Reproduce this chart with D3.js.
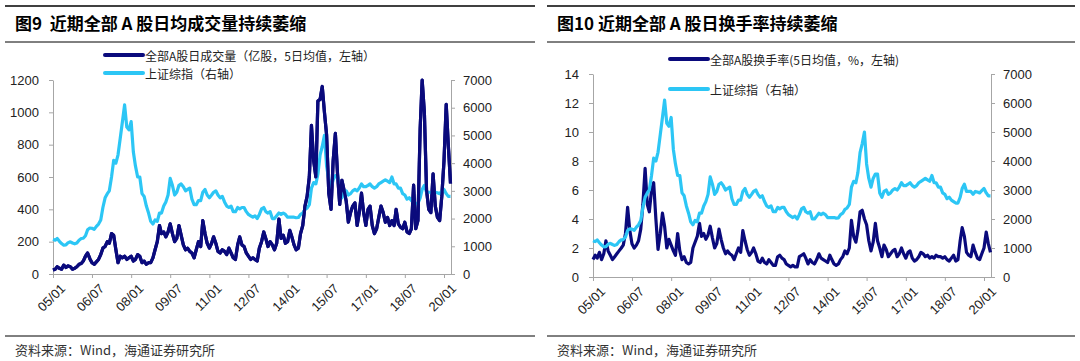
<!DOCTYPE html>
<html>
<head>
<meta charset="utf-8">
<script src="https://cdn.jsdelivr.net/npm/d3@7"></script>
<style>
  body { margin: 0; background: #fff; }
  svg { display: block; font-family: "Liberation Sans", Arial, sans-serif; }
  .cn { font-family: "Noto Sans CJK SC", sans-serif; white-space: pre; }
</style>
</head>
<body>
<svg id="chart" width="1080" height="361"></svg>
<script>
// Monthly values, Jan 2005 .. Apr 2020 (one number per month)

// 上证综指 (both panels, right axis)
const shIndex = [
  1250, 1220, 1280, 1180, 1100, 1040, 1050, 1130, 1160, 1120, 1090, 1120,
  1220, 1280, 1290, 1380, 1600, 1660, 1650, 1610, 1720, 1800, 1950, 2400,
  2750, 2900, 3000, 3500, 4100, 4000, 4300, 4900, 5500, 6100, 5300, 5200,
  5500, 4400, 3900, 3500, 3500, 2900, 2800, 2450, 2200, 1900, 1800, 1950,
  1900, 2200, 2200, 2450, 2600, 2850, 3450, 3200, 2850, 2950, 3200, 3250,
  3150, 3000, 3050, 3100, 2700, 2500, 2500, 2650, 2650, 2950, 3050, 2850,
  2750, 2850, 2950, 3000, 2850, 2750, 2800, 2600, 2450, 2400, 2450, 2250,
  2250, 2400, 2350, 2400, 2400, 2250, 2150, 2100, 2050, 2100, 2000, 2150,
  2350, 2400, 2250, 2200, 2250, 2000, 2000, 2100, 2200, 2150, 2200, 2150,
  2050, 2050, 2050, 2050, 2030, 2040, 2150, 2200, 2330, 2380, 2500, 3100,
  3300, 3250, 3600, 4300, 4600, 5000, 3900, 3400, 3100, 3400, 3550, 3550,
  2900, 2750, 2950, 3000, 2850, 2900, 3000, 3050, 3000, 3100, 3250, 3150,
  3150, 3200, 3250, 3150, 3100, 3150, 3250, 3300, 3350, 3400, 3350, 3300,
  3500, 3250, 3250, 3100, 3100, 2900, 2850, 2700, 2750, 2650, 2600, 2550,
  2550, 2750, 3050, 3200, 2950, 2950, 2950, 2850, 2950, 2930, 2900, 2980,
  3050, 2900, 2800, 2800
];

// 全部A股日成交量 (亿股, 5日均值), left panel
const volume = [
  25, 30, 45, 35, 30, 55, 40, 50, 45, 30, 35, 45,
  60, 65, 80, 110, 130, 95, 70, 60, 75, 90, 120, 160,
  170, 200, 190, 250, 240, 150, 70, 110, 100, 110, 90, 100,
  110, 80, 90, 120, 110, 70, 80, 60, 70, 70, 100, 150,
  200, 300, 250, 260, 230, 260, 310, 250, 200, 220, 300, 240,
  180, 150, 160, 140, 130, 100, 150, 200, 170, 330, 250, 190,
  160, 190, 230, 190, 140, 130, 150, 140, 120, 160, 130, 100,
  90, 180, 230, 180, 170, 130, 110, 90, 100, 90, 80, 160,
  200, 260, 220, 170, 200, 180, 150, 190, 340, 220, 240, 190,
  200, 270, 230, 180, 150, 160, 250, 300, 420, 480, 600, 920,
  700, 600, 1070, 1080, 1160, 1000, 860, 500, 400, 700, 870, 620,
  430, 580, 520, 450, 320, 380, 420, 440, 300, 380, 500, 380,
  300, 400, 420, 300, 250, 280, 350, 420, 380, 320, 350, 300,
  330, 300, 400, 310, 290, 280, 320, 260, 250, 280, 550, 280,
  330, 900, 1200, 1000, 520, 400, 380, 620, 420, 350, 330, 480,
  700, 1050, 800, 560
];

// 全部A股换手率 (5日均值, %), right panel
const turnover = [
  1.2, 1.5, 1.3, 1.7, 1.2, 1.6, 2.5, 1.8, 1.5, 1.2, 1.4, 1.6,
  1.8, 2.0, 2.2, 3.0, 4.8, 3.2, 2.3, 2.0, 2.2, 2.5, 3.3, 5.0,
  7.5, 5.0, 4.5, 6.0, 6.5, 4.0, 1.9, 3.0, 4.4, 3.5, 2.0, 2.6,
  2.2, 1.8, 1.5, 3.0, 1.8, 1.2, 1.4, 1.0, 0.9, 1.0, 2.0, 2.4,
  2.8, 3.7, 2.8, 3.0, 2.6, 2.9, 3.5, 2.7, 2.0, 2.3, 3.3, 2.6,
  2.0, 1.6, 1.8, 1.6, 1.5, 1.2, 1.6, 2.0, 1.7, 3.2, 2.5, 1.9,
  1.5, 1.7, 2.0, 1.6, 1.1, 1.0, 1.3, 1.0, 0.9, 1.2, 1.0, 0.8,
  0.8, 1.4, 1.5, 1.3, 1.2, 0.9, 0.8, 0.7, 0.8, 0.7, 0.7, 1.4,
  1.5, 1.6, 1.3, 0.9, 1.2, 1.0, 0.9, 1.2, 1.6, 1.3, 1.2, 1.1,
  1.0, 1.5, 1.2, 0.9, 0.8, 0.9, 1.2, 1.4, 1.8, 1.6, 2.0, 3.9,
  2.8, 2.4, 3.2, 4.5, 4.6, 4.0, 3.6, 2.5, 1.8, 2.4, 3.7, 2.5,
  2.0, 1.4, 2.2, 1.9, 1.4, 1.6, 1.8, 1.9, 1.4, 1.6, 2.0, 1.6,
  1.3, 1.7, 1.8, 1.3, 1.1, 1.2, 1.4, 1.7, 1.6, 1.4, 1.5, 1.3,
  1.4, 1.3, 1.5, 1.4, 1.4, 1.3, 1.4, 1.2, 1.1, 1.3, 1.5, 1.1,
  1.2, 2.5, 3.4, 2.8, 1.7, 1.5, 1.4, 2.2, 1.7, 1.3, 1.2, 1.6,
  2.0, 3.1, 2.3, 1.7
];

// x tick labels, one every 18 months
const xTickLabels = ["05/01", "06/07", "08/01", "09/07", "11/01", "12/07", "14/01", "15/07", "17/01", "18/07", "20/01"];
const leftTicksVolume = [0, 200, 400, 600, 800, 1000, 1200];
const leftTicksTurnover = [0, 2, 4, 6, 8, 10, 12, 14];
const rightTicksIndex = [0, 1000, 2000, 3000, 4000, 5000, 6000, 7000];

const darkBlue = "#0a0a7c";
const lightBlue = "#2cc6f5";
const axisGrey = "#a6a6a6";

const svg = d3.select("#chart");
const dates = shIndex.map((v, i) => new Date(2005, i, 1));
const tickDates = xTickLabels.map(s => d3.timeParse("%y/%m")(s));

function drawPanel(p) {
  let g = svg.append("g");

  // title block with its two rules
  g.append("line").attr("x1", p.ruleX0).attr("x2", p.ruleX1).attr("y1", 6).attr("y2", 6)
    .attr("stroke", "#000").attr("stroke-width", 1.5);
  g.append("text").attr("class", "cn").attr("x", p.titleX).attr("y", 30)
    .attr("font-size", 17).attr("font-weight", "bold").attr("fill", "#000")
    .text(p.title);
  g.append("line").attr("x1", p.ruleX0).attr("x2", p.ruleX1).attr("y1", 42).attr("y2", 42)
    .attr("stroke", "#000").attr("stroke-width", 1);

  // source rule and text
  g.append("line").attr("x1", p.ruleX0).attr("x2", p.ruleX1).attr("y1", 336).attr("y2", 336)
    .attr("stroke", "#000").attr("stroke-width", 1);
  g.append("text").attr("class", "cn").attr("x", p.titleX).attr("y", 355)
    .attr("font-size", 13).attr("fill", "#333")
    .text("资料来源：Wind，海通证券研究所");

  let x = d3.scaleTime()
    .domain([new Date(2005, 0, 1), new Date(2020, 3, 8)])
    .range([p.left, p.right]);
  let yL = d3.scaleLinear().domain(p.leftDomain).range([p.bottom, p.top]);
  let yR = d3.scaleLinear().domain([0, 7000]).range([p.bottom, p.top]);

  // axes
  let xAxis = d3.axisBottom(x).tickValues(tickDates).tickFormat(d3.timeFormat("%y/%m"))
    .tickSize(4).tickSizeOuter(0);
  let gx = g.append("g").attr("transform", `translate(0,${p.bottom})`).call(xAxis);

  let gl = g.append("g").attr("transform", `translate(${p.left},0)`)
    .call(d3.axisLeft(yL).tickValues(p.leftTicks).tickFormat(d3.format("d"))
      .tickSize(4).tickSizeOuter(0).tickPadding(10));
  let gr = g.append("g").attr("transform", `translate(${p.right},0)`)
    .call(d3.axisRight(yR).tickValues(rightTicksIndex).tickFormat(d3.format("d"))
      .tickSize(4).tickSizeOuter(0).tickPadding(8));

  for (let a of [gx, gl, gr]) {
    a.selectAll("path, line").attr("stroke", axisGrey);
    a.selectAll("text").attr("font-size", 13).attr("fill", "#222")
      .attr("font-family", "'Liberation Sans', Arial, sans-serif");
  }
  // rotated date labels ending just under each tick
  gx.selectAll("text")
    .attr("text-anchor", "end")
    .attr("transform", "translate(4,3) rotate(-45)")
    .attr("dx", "-0.2em").attr("dy", "0.6em");

  // series lines
  let lineIdx = d3.line().x((d, i) => x(dates[i])).y(d => yR(d));
  let lineLeft = d3.line().x((d, i) => x(dates[i])).y(d => yL(d));

  g.append("path").datum(p.leftData)
    .attr("fill", "none").attr("stroke", darkBlue).attr("stroke-width", 3.2)
    .attr("stroke-linejoin", "round").attr("d", lineLeft);
  g.append("path").datum(shIndex)
    .attr("fill", "none").attr("stroke", lightBlue).attr("stroke-width", 3.2)
    .attr("stroke-linejoin", "round").attr("d", lineIdx);
  if (p.darkOnTop) {
    g.append("path").datum(p.leftData)
      .attr("fill", "none").attr("stroke", darkBlue).attr("stroke-width", 3.2)
      .attr("stroke-linejoin", "round").attr("d", lineLeft);
  }

  // legend
  let items = [
    {label: p.leftLabel, color: darkBlue, y: p.legendY[0]},
    {label: "上证综指（右轴）", color: lightBlue, y: p.legendY[1]}
  ];
  for (let it of items) {
    g.append("line").attr("x1", p.legendX).attr("x2", p.legendX + 38)
      .attr("y1", it.y).attr("y2", it.y)
      .attr("stroke", it.color).attr("stroke-width", 4).attr("stroke-linecap", "round");
    g.append("text").attr("class", "cn").attr("x", p.legendX + 40).attr("y", it.y)
      .attr("dominant-baseline", "central").attr("font-size", 12).attr("fill", "#222")
      .text(it.label);
  }
}

drawPanel({
  title: "图9  近期全部 A 股日均成交量持续萎缩",
  titleX: 15, ruleX0: 5, ruleX1: 535,
  left: 53, right: 451, top: 80, bottom: 274,
  leftDomain: [0, 1200], leftTicks: leftTicksVolume, leftData: volume,
  leftLabel: "全部A股日成交量（亿股，5日均值，左轴）",
  legendX: 105, legendY: [55, 73], darkOnTop: true
});

drawPanel({
  title: "图10 近期全部 A 股日换手率持续萎缩",
  titleX: 557, ruleX0: 547, ruleX1: 1075,
  left: 593, right: 991, top: 74, bottom: 277,
  leftDomain: [0, 14], leftTicks: leftTicksTurnover, leftData: turnover,
  leftLabel: "全部A股换手率(5日均值，%，左轴)",
  legendX: 670, legendY: [59, 89], darkOnTop: false
});
</script>
</body>
</html>
